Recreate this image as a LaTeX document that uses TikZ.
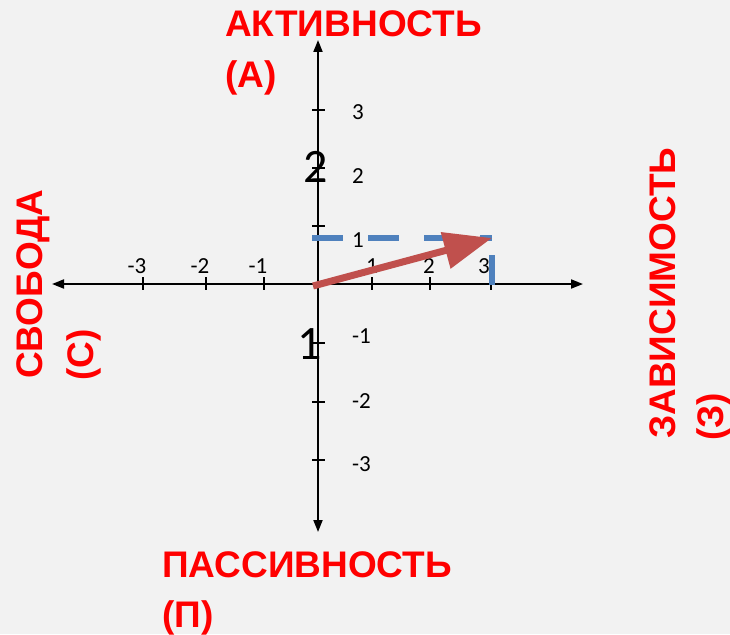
\documentclass[tikz,border=0pt]{standalone}
\usepackage{fontspec}
\setmainfont{Liberation Sans}
\newfontfamily\calfont{Carlito}
\usetikzlibrary{arrows.meta}
\definecolor{bg}{HTML}{F2F2F2}
\definecolor{lblred}{HTML}{FF0000}
\definecolor{arrred}{HTML}{C0504D}
\definecolor{dashblue}{HTML}{4F81BD}
\begin{document}
\begin{tikzpicture}[x=1pt,y=-1pt,
  axis/.style={line width=1.8pt, black, {Triangle[length=12pt 0,width=9pt 0]}-{Triangle[length=12pt 0,width=9pt 0]}},
  tickmark/.style={line width=1.5pt, black},
  ticklbl/.style={font=\calfont\fontsize{23}{27}\selectfont, inner sep=0},
  biglbl/.style={font=\calfont\fontsize{48}{56}\selectfont, inner sep=0, anchor=base},
  cat/.style={font=\bfseries\fontsize{37}{44}\selectfont, text=lblred, inner sep=0, anchor=base west},
  dashline/.style={line width=6pt, dashblue, dash pattern=on 31pt off 25pt},
  vecline/.style={line width=7pt, arrred, -{Triangle[length=48pt 0,width=36pt 0]}},
]
\fill[bg] (0,0) rectangle (730,634);
\useasboundingbox (0,0) rectangle (730,634);

% axes
\coordinate (xl) at (52,284);
\coordinate (xr) at (583,284);
\coordinate (yt) at (318,40);
\coordinate (yb) at (318,532);
\draw[axis] (xl) -- (xr);
\draw[axis] (yb) -- (yt);

% x ticks
\foreach \x in {143,206,264,372,430,491} \draw[tickmark] (\x,277) -- (\x,290);
% y ticks
\foreach \y in {110,168,226,343,402,460} \draw[tickmark] (312,\y) -- (325,\y);

% x tick labels
\node[ticklbl, anchor=base] (xm3) at (137,273) {-3};
\node[ticklbl, anchor=base] (xm2) at (200,273) {-2};
\node[ticklbl, anchor=base] (xm1) at (258,273) {-1};
\node[ticklbl, anchor=base] (xp1) at (372,273) {1};
\node[ticklbl, anchor=base] (xp2) at (429,273) {2};
\node[ticklbl, anchor=base] (xp3) at (484,273) {3};

% y tick labels
\node[ticklbl, anchor=base west] (yp3) at (352,119) {3};
\node[ticklbl, anchor=base west] (yp2) at (352,183) {2};
\node[ticklbl, anchor=base west] (yp1) at (352,247) {1};
\node[ticklbl, anchor=base west] (ym1) at (352,343) {-1};
\node[ticklbl, anchor=base west] (ym2) at (352,408) {-2};
\node[ticklbl, anchor=base west] (ym3) at (352,471) {-3};

% dashed projection
\coordinate (d0) at (312,238);
\coordinate (d1) at (492,238);
\coordinate (v0) at (492,255);
\coordinate (v1) at (492,285);
\draw[dashline] (d0) -- (d1);
\draw[line width=6pt, dashblue] (v0) -- (v1);

% vector
\coordinate (o) at (313,286);
\coordinate (p) at (492,238);
\draw[vecline] (o) -- (p);

% big numbers
\node[biglbl] (big2) at (316,182) {2};
\node[biglbl] (big1) at (310,359) {1};

% category labels
\node[cat] (akt) at (225,37) {АКТИВНОСТЬ};
\node[cat] (akta) at (225,87) {(А)};
\node[cat] (pas) at (162,577) {ПАССИВНОСТЬ};
\node[cat] (pasp) at (162,627) {(П)};
\node[cat, rotate=90] (svo) at (42,379) {СВОБОДА};
\node[cat, rotate=90] (svoc) at (93,381) {(С)};
\node[cat, rotate=90] (zav) at (675,439) {ЗАВИСИМОСТЬ};
\node[cat, rotate=90] (zavz) at (723,441) {(З)};
\end{tikzpicture}
\end{document}
